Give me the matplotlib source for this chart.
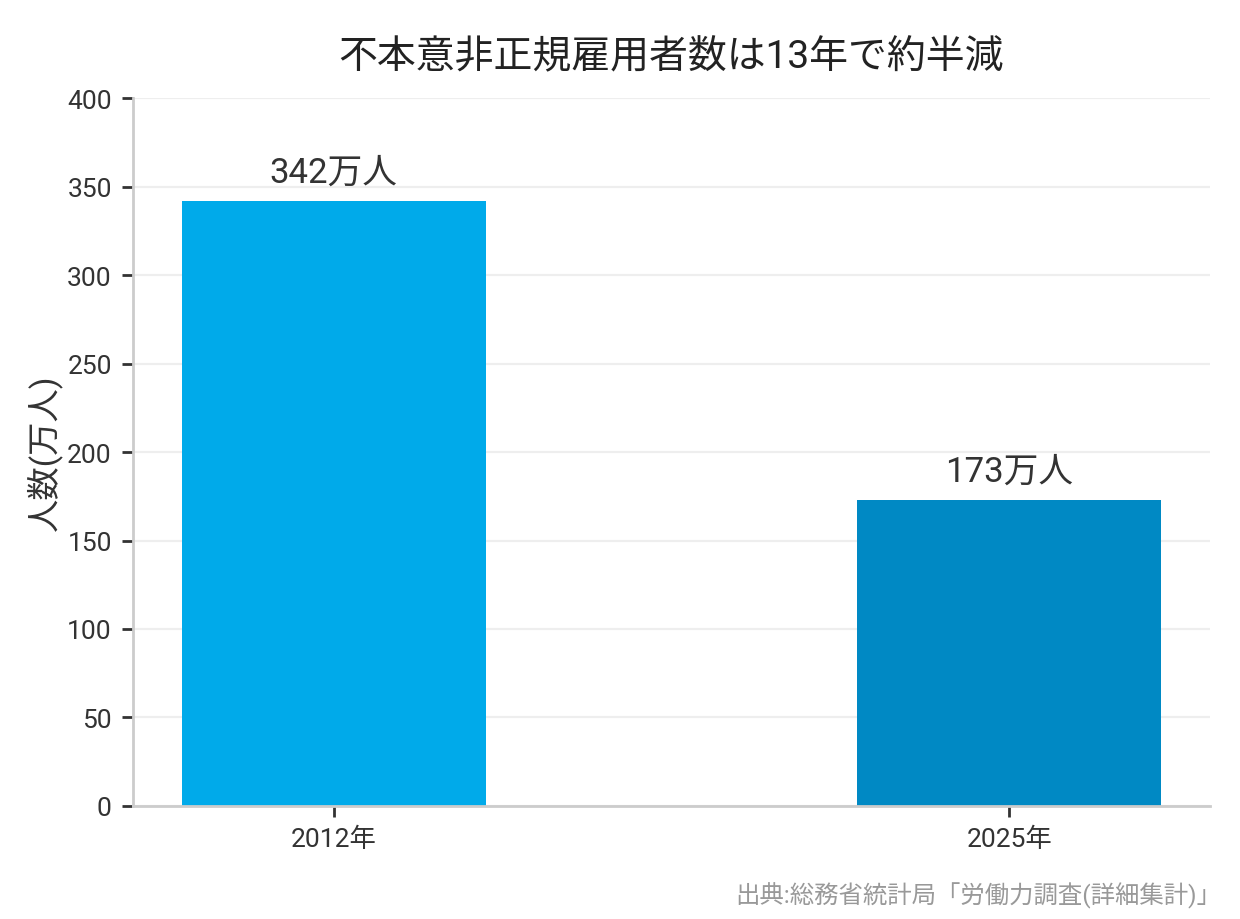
import numpy as np
import matplotlib.pyplot as plt

plt.rcParams['font.family'] = ['Roboto', 'Noto Sans CJK JP', 'DejaVu Sans']

years = ['2012年', '2025年']
values = [342, 173]
labels = ['342万人', '173万人']
colours = ['#00aaea', '#0089c4']

fig = plt.figure(figsize=(6.2, 4.6), dpi=200)
ax = fig.add_axes((0.107, 0.123, 0.869, 0.769))

x = np.arange(len(years))
bars = ax.bar(x, values, width=0.45, color=colours, zorder=2)

for b, lab in zip(bars, labels):
    ax.text(b.get_x() + b.get_width() / 2, b.get_height() + 7, lab,
            ha='center', va='bottom', fontsize=12.5, color='#333333')

ax.set_xticks(x)
ax.set_xticklabels(years)
ax.set_ylim(0, 400)
ax.set_yticks(np.arange(0, 401, 50))
ax.tick_params(axis='both', labelsize=9.5, colors='#333333', length=4, width=1)
ax.grid(axis='y', color='#eeeeee', lw=0.8, zorder=0)

for s in ['top', 'right']:
    ax.spines[s].set_visible(False)
for s in ['left', 'bottom']:
    ax.spines[s].set_color('#cccccc')
    ax.spines[s].set_linewidth(1)

ax.set_ylabel('人数(万人)', fontsize=12, color='#333333', labelpad=2)
ax.set_title('不本意非正規雇用者数は13年で約半減', fontsize=14, color='#222222', pad=11)

fig.text(0.985, 0.012, '出典:総務省統計局「労働力調査(詳細集計)」', ha='right', va='bottom',
         fontsize=8.8, color='#999999')

fig.savefig('out.png', dpi=200)
